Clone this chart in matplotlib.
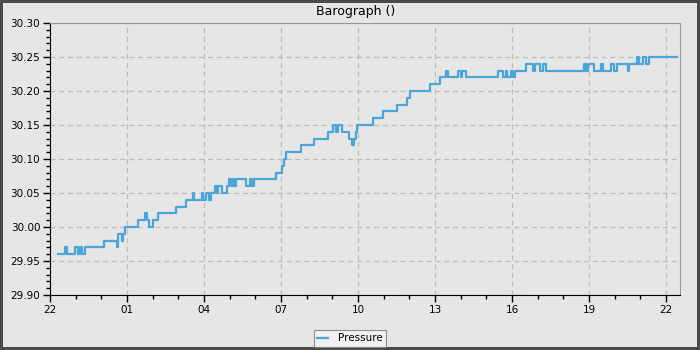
import datetime as dt
import matplotlib
matplotlib.use("Agg")
import matplotlib.pyplot as plt
import matplotlib.dates as mdates
from matplotlib.ticker import MultipleLocator

# hours after 22:00 where the reading changes, and the reading from then on
hours = [0.31, 0.58, 0.66, 0.97, 1.09, 1.17, 1.25, 1.36, 2.10, 2.61,
         2.65, 2.80, 2.86, 2.92, 3.43, 3.70, 3.78, 3.86, 4.01, 4.21,
         4.91, 5.30, 5.57, 5.61, 5.92, 5.96, 6.08, 6.19, 6.27, 6.43,
         6.51, 6.55, 6.70, 6.90, 6.98, 7.05, 7.13, 7.17, 7.25, 7.64,
         7.80, 7.87, 7.95, 8.79, 9.04, 9.12, 9.20, 9.78, 10.29, 10.83,
         11.03, 11.14, 11.22, 11.38, 11.65, 11.77, 11.85, 11.92, 11.96, 12.59,
         12.97, 13.52, 13.91, 14.03, 14.81, 15.19, 15.43, 15.51, 15.90, 16.00,
         16.07, 16.21, 17.46, 17.66, 17.78, 17.81, 17.95, 18.05, 18.12, 18.55,
         18.82, 18.90, 19.09, 19.21, 19.33, 20.80, 20.88, 20.96, 21.20, 21.47,
         21.55, 21.86, 21.98, 22.09, 22.52, 22.56, 22.87, 22.95, 23.10, 23.22,
         23.34, 24.43]
pressure = [29.96, 29.97, 29.96, 29.97, 29.96, 29.97, 29.96, 29.97, 29.98, 29.97,
            29.99, 29.98, 29.99, 30.00, 30.01, 30.02, 30.01, 30.00, 30.01, 30.02,
            30.03, 30.04, 30.05, 30.04, 30.05, 30.04, 30.05, 30.04, 30.05, 30.06,
            30.05, 30.06, 30.05, 30.06, 30.07, 30.06, 30.07, 30.06, 30.07, 30.06,
            30.07, 30.06, 30.07, 30.08, 30.09, 30.10, 30.11, 30.12, 30.13, 30.14,
            30.15, 30.14, 30.15, 30.14, 30.13, 30.12, 30.13, 30.14, 30.15, 30.16,
            30.17, 30.18, 30.19, 30.20, 30.21, 30.22, 30.23, 30.22, 30.23, 30.22,
            30.23, 30.22, 30.23, 30.22, 30.23, 30.22, 30.23, 30.22, 30.23, 30.24,
            30.23, 30.24, 30.23, 30.24, 30.23, 30.24, 30.23, 30.24, 30.23, 30.24,
            30.23, 30.24, 30.23, 30.24, 30.23, 30.24, 30.25, 30.24, 30.25, 30.24,
            30.25, 30.25]

start = dt.datetime(2024, 1, 1, 22, 0)
times = [start + dt.timedelta(hours=h) for h in hours]

bg = "#e6e6e6"
fig = plt.figure(figsize=(7, 3.5), dpi=100, facecolor=bg, edgecolor="#4a4a4a", linewidth=3)
ax = fig.add_axes([50/700, 1-295/350, 630/700, 272/350])
ax.set_facecolor(bg)

ax.step(times, pressure, where="post", color="#4aa6d8", lw=1.6, label="Pressure")

ax.set_xlim(start, start + dt.timedelta(hours=24.545))
ax.set_ylim(29.90, 30.30)
ax.xaxis.set_major_locator(mdates.HourLocator(byhour=range(1, 24, 3)))
ax.xaxis.set_minor_locator(mdates.HourLocator())
ax.xaxis.set_major_formatter(mdates.DateFormatter("%H"))
ax.yaxis.set_major_locator(MultipleLocator(0.05))
ax.yaxis.set_minor_locator(MultipleLocator(0.01))
ax.yaxis.set_major_formatter(matplotlib.ticker.FormatStrFormatter("%.2f"))

ax.grid(True, which="major", color="#bdbdbd", ls=(0, (4, 3)), lw=0.9)
ax.tick_params(which="major", length=5, width=1, labelsize=7.5, colors="black", pad=2)
ax.tick_params(which="minor", length=3, width=1, colors="black")
for s in ("top", "right"):
    ax.spines[s].set_color("#999999")
for s in ("left", "bottom"):
    ax.spines[s].set_color("black")

fig.text(0.508, 0.968, "Barograph ()", ha="center", va="center", fontsize=9)
leg = fig.legend(loc="center", bbox_to_anchor=(0.5, 0.033), fontsize=7.5, frameon=True,
                 fancybox=False, handlelength=1.0, borderpad=0.35, handletextpad=1.0,
                 borderaxespad=0)
leg.get_frame().set_facecolor("#f5f5f5")
leg.get_frame().set_edgecolor("#777777")
leg.get_frame().set_linewidth(0.8)

fig.savefig("out.png", dpi=100, facecolor=bg, edgecolor="#4a4a4a")
